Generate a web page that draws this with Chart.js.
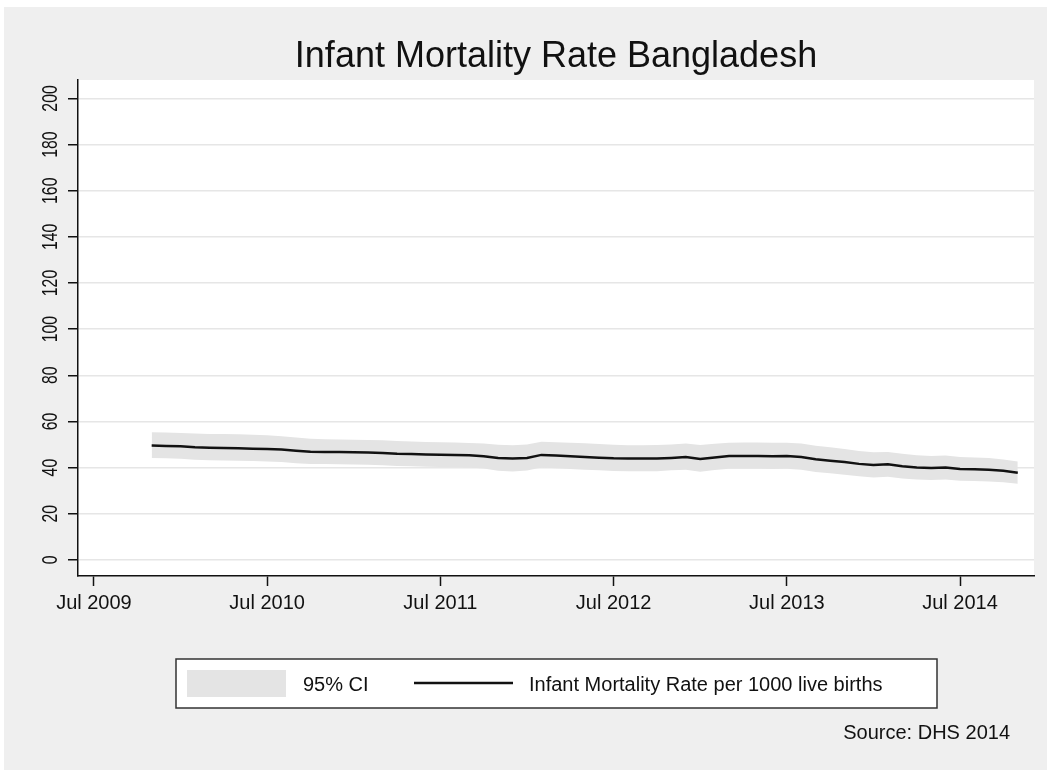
<!DOCTYPE html>
<html>
<head>
<meta charset="utf-8">
<title>Infant Mortality Rate Bangladesh</title>
<script src="https://cdn.jsdelivr.net/npm/chart.js@4.4.1/dist/chart.umd.min.js"></script>
<style>
  html, body { margin: 0; padding: 0; background: #fff; }
  canvas { display: block; }
</style>
</head>
<body>
<canvas id="chart" width="1047" height="770"></canvas>
<script>
(function(Chart) {
  'use strict';

  // monthly estimates, Nov 2009 - Nov 2014
  var months = [
    '2009-11', '2009-12',
    '2010-01', '2010-02', '2010-03', '2010-04', '2010-05', '2010-06', '2010-07', '2010-08', '2010-09', '2010-10', '2010-11', '2010-12',
    '2011-01', '2011-02', '2011-03', '2011-04', '2011-05', '2011-06', '2011-07', '2011-08', '2011-09', '2011-10', '2011-11', '2011-12',
    '2012-01', '2012-02', '2012-03', '2012-04', '2012-05', '2012-06', '2012-07', '2012-08', '2012-09', '2012-10', '2012-11', '2012-12',
    '2013-01', '2013-02', '2013-03', '2013-04', '2013-05', '2013-06', '2013-07', '2013-08', '2013-09', '2013-10', '2013-11', '2013-12',
    '2014-01', '2014-02', '2014-03', '2014-04', '2014-05', '2014-06', '2014-07', '2014-08', '2014-09', '2014-10', '2014-11'
  ];

  var imr = [
    49.6, 49.4,
    49.2, 48.8, 48.6, 48.5, 48.4, 48.2, 48.0, 47.8, 47.3, 46.9, 46.8, 46.7,
    46.6, 46.5, 46.3, 46.0, 45.9, 45.7, 45.6, 45.5, 45.3, 44.9, 44.1, 43.9,
    44.2, 45.5, 45.2, 44.9, 44.6, 44.3, 44.0, 43.9, 43.9, 43.9, 44.2, 44.6,
    43.7, 44.4, 45.0, 45.0, 45.0, 44.9, 45.0, 44.6, 43.6, 43.0, 42.4, 41.6,
    41.1, 41.4, 40.6, 40.0, 39.8, 40.0, 39.4, 39.3, 39.1, 38.6, 37.8
  ];

  var ciUpper = [
    55.3, 55.2,
    55.0, 54.8, 54.6, 54.5, 54.4, 54.2, 54.0, 53.6, 53.0, 52.5, 52.3, 52.2,
    52.1, 52.0, 51.8, 51.5, 51.3, 51.1, 51.0, 50.9, 50.7, 50.4, 49.9, 49.7,
    50.0, 51.2, 51.0, 50.8, 50.5, 50.2, 49.9, 49.7, 49.7, 49.8, 50.0, 50.4,
    49.8, 50.3, 50.8, 50.9, 50.9, 50.8, 50.8, 50.4, 49.5, 48.8, 48.1, 47.2,
    46.6, 46.8, 46.0, 45.3, 45.0, 45.2, 44.6, 44.4, 44.1, 43.5, 42.6
  ];

  var ciLower = [
    44.2, 44.0,
    43.8, 43.4, 43.2, 43.1, 43.0, 42.8, 42.6, 42.4, 41.9, 41.6, 41.5, 41.4,
    41.3, 41.2, 41.0, 40.7, 40.6, 40.4, 40.3, 40.2, 40.0, 39.6, 38.6, 38.3,
    38.7, 40.0, 39.7, 39.4, 39.1, 38.8, 38.5, 38.4, 38.4, 38.4, 38.8, 39.1,
    38.2, 39.0, 39.5, 39.5, 39.5, 39.4, 39.5, 39.1, 38.1, 37.5, 36.9, 36.2,
    35.7, 36.0, 35.3, 34.8, 34.6, 34.8, 34.3, 34.2, 34.0, 33.6, 33.0
  ];

  var xTickMonths = ['2009-07', '2010-07', '2011-07', '2012-07', '2013-07', '2014-07'];
  var xTickLabels = ['Jul 2009', 'Jul 2010', 'Jul 2011', 'Jul 2012', 'Jul 2013', 'Jul 2014'];
  var yTickValues = [0, 20, 40, 60, 80, 100, 120, 140, 160, 180, 200];

  var TITLE = 'Infant Mortality Rate Bangladesh';
  var SOURCE = 'Source: DHS 2014';
  var FONT = '"Liberation Sans", Helvetica, Arial, sans-serif';

  // '2010-07' -> 2010.5
  function toYear(ym) {
    var parts = ym.split('-');
    return +parts[0] + (parts[1] - 1) / 12;
  }

  function series(values) {
    return values.map(function(v, i) {
      return { x: toYear(months[i]), y: v };
    });
  }

  // grey page, white plot region
  var backdrop = {
    id: 'backdrop',
    beforeDraw: function(chart) {
      var ctx = chart.ctx, area = chart.chartArea;
      ctx.save();
      ctx.fillStyle = '#ffffff';
      ctx.fillRect(0, 0, chart.width, chart.height);
      ctx.fillStyle = '#efefef';
      ctx.fillRect(4, 7, chart.width - 4, chart.height - 7);
      ctx.fillStyle = '#ffffff';
      ctx.fillRect(area.left, area.top, area.right - area.left, area.bottom - area.top);
      ctx.restore();
    }
  };

  // title centred over the plot region, stata-style rotated y labels
  var labels = {
    id: 'labels',
    afterDraw: function(chart) {
      var ctx = chart.ctx, area = chart.chartArea, scale = chart.scales.y;
      ctx.save();
      ctx.fillStyle = '#111';
      ctx.textAlign = 'center';
      ctx.textBaseline = 'middle';

      ctx.font = '36px ' + FONT;
      ctx.fillText(TITLE, (area.left + area.right) / 2, area.top - 23);

      ctx.font = '22px ' + FONT;
      scale.ticks.forEach(function(tick) {
        var y = scale.getPixelForValue(tick.value);
        ctx.save();
        ctx.translate(50, y);
        ctx.rotate(-Math.PI / 2);
        ctx.scale(0.72, 1);
        ctx.fillText(String(tick.value), 0, 1);
        ctx.restore();
      });
      ctx.restore();
    }
  };

  // boxed legend under the axis plus the source note
  var notes = {
    id: 'notes',
    afterDraw: function(chart) {
      var ctx = chart.ctx, area = chart.chartArea;
      var line = chart.data.datasets[0], band = chart.data.datasets[1];
      var L = area.left + 98, T = area.bottom + 83, W = 761, H = 49;

      ctx.save();
      ctx.fillStyle = '#ffffff';
      ctx.fillRect(L, T, W, H);
      ctx.strokeStyle = '#333';
      ctx.lineWidth = 1.5;
      ctx.strokeRect(L, T, W, H);

      ctx.fillStyle = band.backgroundColor;
      ctx.fillRect(L + 11, T + 11, 99, 27);

      ctx.strokeStyle = line.borderColor;
      ctx.lineWidth = line.borderWidth;
      ctx.beginPath();
      ctx.moveTo(L + 238, T + 24);
      ctx.lineTo(L + 337, T + 24);
      ctx.stroke();

      ctx.fillStyle = '#111';
      ctx.font = '20px ' + FONT;
      ctx.textAlign = 'left';
      ctx.textBaseline = 'middle';
      ctx.fillText(band.label, L + 127, T + 26);
      ctx.fillText(line.label, L + 353, T + 26);

      ctx.textAlign = 'right';
      ctx.fillText(SOURCE, area.right - 24, area.bottom + 157);
      ctx.restore();
    }
  };

  Chart.defaults.font.family = FONT;
  Chart.defaults.color = '#111';

  new Chart(document.getElementById('chart'), {
    type: 'line',
    data: {
      datasets: [
        {
          label: 'Infant Mortality Rate per 1000 live births',
          data: series(imr),
          borderColor: '#111111',
          borderWidth: 2.5,
          pointRadius: 0,
          fill: false
        },
        {
          label: '95% CI',
          data: series(ciUpper),
          borderWidth: 0,
          borderColor: 'rgba(0,0,0,0)',
          backgroundColor: '#e4e4e4',
          pointRadius: 0,
          fill: '+1'
        },
        {
          label: '95% CI lower',
          data: series(ciLower),
          borderWidth: 0,
          borderColor: 'rgba(0,0,0,0)',
          backgroundColor: '#e4e4e4',
          pointRadius: 0,
          fill: false
        }
      ]
    },
    options: {
      responsive: false,
      animation: false,
      devicePixelRatio: 1,
      layout: { padding: { top: 80, right: 13, bottom: 0, left: 0 } },
      plugins: {
        legend: { display: false },
        tooltip: { enabled: false },
        title: { display: false }
      },
      scales: {
        x: {
          type: 'linear',
          min: 2009.408,
          max: 2014.927,
          afterBuildTicks: function(scale) {
            scale.ticks = xTickMonths.map(function(m) { return { value: toYear(m) }; });
          },
          afterFit: function(scale) { scale.height = 194; },
          ticks: {
            padding: 5,
            maxRotation: 0,
            autoSkip: false,
            color: '#111',
            font: { size: 20 },
            callback: function(value, index) { return xTickLabels[index]; }
          },
          grid: {
            drawOnChartArea: false,
            tickLength: 10,
            tickColor: '#111',
            tickWidth: 1.5
          },
          border: { color: '#111', width: 1.5 }
        },
        y: {
          min: -7,
          max: 208,
          afterBuildTicks: function(scale) {
            scale.ticks = yTickValues.map(function(v) { return { value: v }; });
          },
          afterFit: function(scale) { scale.width = 78; },
          ticks: { display: false },
          grid: {
            color: '#e6e6e6',
            lineWidth: 1.5,
            tickLength: 10,
            tickColor: '#111',
            tickWidth: 1.5
          },
          border: { color: '#111', width: 1.5 }
        }
      }
    },
    plugins: [backdrop, labels, notes]
  });

}(Chart));
</script>
</body>
</html>
